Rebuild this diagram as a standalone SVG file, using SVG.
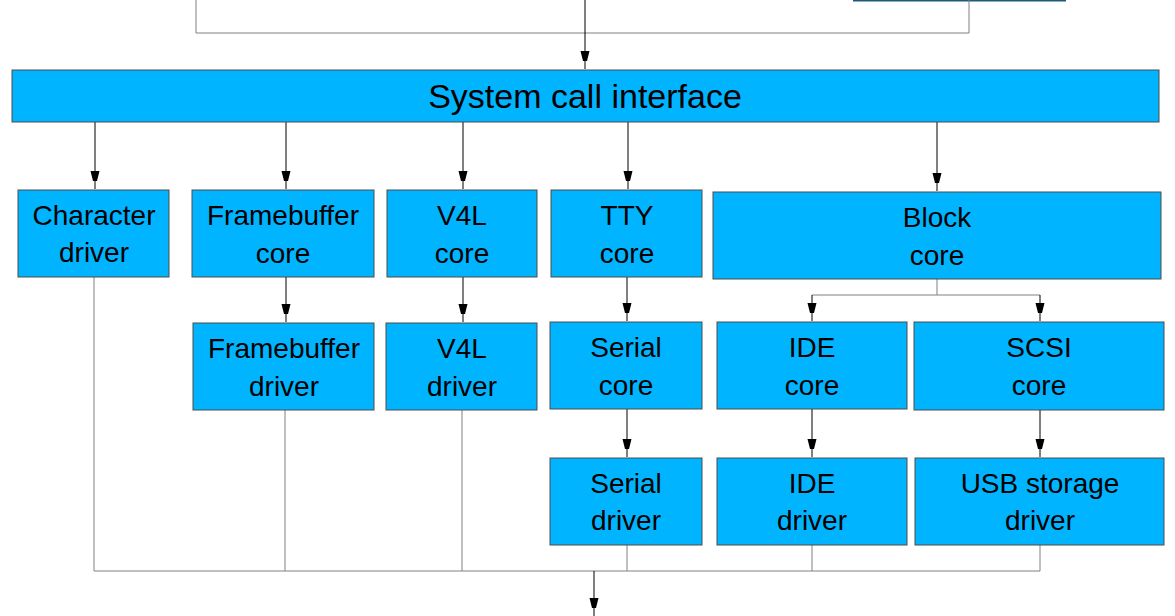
<svg xmlns="http://www.w3.org/2000/svg" width="1175" height="616" viewBox="0 0 1175 616">
<style>
rect.n{fill:#00b4ff;stroke:#4d4d4d;stroke-width:1}
text{font-family:"Liberation Sans",Arial,sans-serif;font-size:28px;fill:#000;text-anchor:middle}
.c line,.c polyline{stroke:#808080;stroke-width:1;fill:none}
.c .a{stroke:#000}
</style>
<defs><marker id="ar" markerWidth="12" markerHeight="20" refX="6" refY="20" orient="auto-start-reverse" markerUnits="userSpaceOnUse" viewBox="0 0 12 20"><path d="M0,0 L12,0 L6,20 z" fill="#000" transform="rotate(0)"/></marker>
<marker id="m" viewBox="0 0 10 20" markerWidth="10" markerHeight="18" refX="20" refY="5" orient="auto" markerUnits="userSpaceOnUse"><path d="M0,0 L20,5 L0,10 z" fill="#000"/></marker>
</defs>
<rect x="0" y="0" width="1175" height="616" fill="#fff"/>
<g class="c">
<line x1="853" y1="0.5" x2="1066" y2="0.5" style="stroke:#1c5a78;stroke-width:2"/>
<polyline points="196,0 196,33 969,33 969,0"/>
<line x1="585" y1="0" x2="585" y2="69" class="a" marker-end="url(#m)"/>
<line x1="95" y1="122" x2="95" y2="189" class="a" marker-end="url(#m)"/>
<line x1="286" y1="122" x2="286" y2="189" class="a" marker-end="url(#m)"/>
<line x1="463" y1="122" x2="463" y2="189" class="a" marker-end="url(#m)"/>
<line x1="628" y1="122" x2="628" y2="189" class="a" marker-end="url(#m)"/>
<line x1="937" y1="122" x2="937" y2="191" class="a" marker-end="url(#m)"/>
<polyline points="937,279 937,295 812,295"/>
<polyline points="937,295 1040,295"/>
<line x1="812" y1="295" x2="812" y2="321" class="a" marker-end="url(#m)"/>
<line x1="1040" y1="295" x2="1040" y2="321" class="a" marker-end="url(#m)"/>
<line x1="286" y1="277" x2="286" y2="322" class="a" marker-end="url(#m)"/>
<line x1="463" y1="277" x2="463" y2="322" class="a" marker-end="url(#m)"/>
<line x1="627" y1="277" x2="627" y2="321" class="a" marker-end="url(#m)"/>
<line x1="627" y1="409" x2="627" y2="457" class="a" marker-end="url(#m)"/>
<line x1="812" y1="409" x2="812" y2="457" class="a" marker-end="url(#m)"/>
<line x1="1040" y1="410" x2="1040" y2="457" class="a" marker-end="url(#m)"/>
<polyline points="94,277 94,571 1040,571 1040,545"/>
<line x1="285" y1="410" x2="285" y2="571"/>
<line x1="462" y1="410" x2="462" y2="571"/>
<line x1="627" y1="545" x2="627" y2="571"/>
<line x1="812" y1="545" x2="812" y2="571"/>
<line x1="594" y1="571" x2="594" y2="616" class="a" marker-end="url(#m)"/>
</g>
<g id="sci"><rect class="n" x="12" y="70" width="1147" height="52"/><text x="585" y="108" style="font-size:34px">System call interface</text></g>
<g id="chr"><rect class="n" x="18" y="190" width="151" height="87"/><text x="94" y="225">Character</text><text x="94" y="262">driver</text></g>
<g id="fbc"><rect class="n" x="192" y="190" width="182" height="87"/><text x="283" y="225">Framebuffer</text><text x="283" y="263">core</text></g>
<g id="v4lc"><rect class="n" x="387" y="190" width="150" height="87"/><text x="462" y="225">V4L</text><text x="462" y="263">core</text></g>
<g id="ttyc"><rect class="n" x="551" y="190" width="151" height="87"/><text x="627" y="225">TTY</text><text x="627" y="263">core</text></g>
<g id="blk"><rect class="n" x="713" y="192" width="448" height="87"/><text x="937" y="227">Block</text><text x="937" y="265">core</text></g>
<g id="fbd"><rect class="n" x="193" y="323" width="181" height="87"/><text x="284" y="358">Framebuffer</text><text x="284" y="396">driver</text></g>
<g id="v4ld"><rect class="n" x="386" y="323" width="151" height="87"/><text x="462" y="358">V4L</text><text x="462" y="396">driver</text></g>
<g id="serc"><rect class="n" x="550" y="322" width="152" height="87"/><text x="626" y="357">Serial</text><text x="626" y="395">core</text></g>
<g id="idec"><rect class="n" x="717" y="322" width="190" height="87"/><text x="812" y="357">IDE</text><text x="812" y="395">core</text></g>
<g id="scsic"><rect class="n" x="914" y="322" width="250" height="88"/><text x="1039" y="357">SCSI</text><text x="1039" y="395">core</text></g>
<g id="serd"><rect class="n" x="550" y="458" width="152" height="87"/><text x="626" y="493">Serial</text><text x="626" y="530">driver</text></g>
<g id="ided"><rect class="n" x="717" y="458" width="190" height="87"/><text x="812" y="493">IDE</text><text x="812" y="530">driver</text></g>
<g id="usbd"><rect class="n" x="915" y="458" width="249" height="87"/><text x="1040" y="493">USB storage</text><text x="1040" y="530">driver</text></g>
</svg>
